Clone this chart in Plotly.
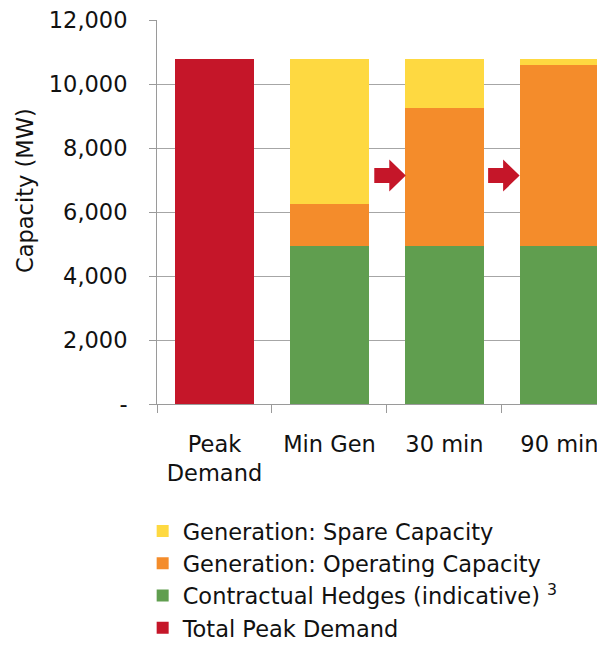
import plotly.graph_objects as go

categories = ["Peak<br>Demand", "Min Gen", "30 min", "90 min"]
total_peak_demand = [10780, None, None, None]
contractual_hedges = [None, 4950, 4950, 4950]
operating_capacity = [None, 1300, 4310, 5640]
spare_capacity = [None, 4530, 1520, 190]

y_tickvals = [0, 2000, 4000, 6000, 8000, 10000, 12000]
y_ticktext = ["-", "2,000", "4,000", "6,000", "8,000", "10,000", "12,000"]

arrow_x = [1.52, 2.51]
arrow_y = [7140, 7140]

RED = "#C51629"
GREEN = "#609E4F"
ORANGE = "#F48C2B"
YELLOW = "#FED941"
FONT = "DejaVu Sans"
TXT = "#111111"
FS = 22.5

# page body has an 8px default margin; compensate so the picture lands at 605x645
OFF = 8

fig = go.Figure()
fig.add_bar(x=categories, y=total_peak_demand, name="Total Peak Demand", legendgroup="d",
            marker=dict(color=RED, line=dict(width=0)), width=0.68)
fig.add_bar(x=categories, y=contractual_hedges, name="Contractual Hedges (indicative) <sup>3</sup>",
            legendgroup="c", marker=dict(color=GREEN, line=dict(width=0)), width=0.68)
fig.add_bar(x=categories, y=operating_capacity, name="Generation: Operating Capacity",
            legendgroup="b", marker=dict(color=ORANGE, line=dict(width=0)), width=0.68)
fig.add_bar(x=categories, y=spare_capacity, name="Generation: Spare Capacity",
            legendgroup="a", marker=dict(color=YELLOW, line=dict(width=0)), width=0.68)

arrow_path = "M-15,-7.5 L0,-7.5 L0,-16 L16.5,0 L0,16 L0,7.5 L-15,7.5 Z"
for ax, ay in zip(arrow_x, arrow_y):
    fig.add_shape(type="path", xref="x", yref="y", xsizemode="pixel", ysizemode="pixel",
                  xanchor=ax, yanchor=ay, path=arrow_path,
                  fillcolor=RED, line=dict(width=0), layer="above")

fig.add_annotation(text="Capacity (MW)", textangle=-90, xref="paper", yref="paper",
                   x=-0.295, y=0.557, xanchor="center", yanchor="middle", showarrow=False,
                   font=dict(family=FONT, size=FS, color=TXT))

fig.update_layout(
    width=605 - OFF, height=645 - OFF,
    barmode="stack",
    plot_bgcolor="white", paper_bgcolor="white",
    margin=dict(l=157 - OFF, r=0, t=20 - OFF, b=241, autoexpand=False),
    font=dict(family=FONT, size=FS, color=TXT),
    showlegend=True,
    legend=dict(traceorder="reversed", orientation="v",
                x=-0.032, xanchor="left", y=-0.276, yanchor="top",
                font=dict(family=FONT, size=FS, color=TXT),
                itemwidth=30, tracegroupgap=9, bgcolor="rgba(0,0,0,0)"),
    xaxis=dict(type="category", range=[-0.5, 3.396], showline=True, linecolor="#9a9a9a",
               linewidth=1, ticks="outside", tickson="boundaries", ticklen=8,
               tickcolor="#9a9a9a", showgrid=False, ticklabelstandoff=20,
               tickfont=dict(family=FONT, size=FS, color=TXT)),
    yaxis=dict(range=[0, 12002], tickvals=y_tickvals, ticktext=y_ticktext,
               showline=True, linecolor="#9a9a9a", linewidth=1,
               ticks="outside", ticklen=7, tickcolor="#9a9a9a",
               showgrid=True, gridcolor="#a6a6a6", gridwidth=1,
               zeroline=False, ticklabelstandoff=17, ticklabeloverflow="allow",
               tickfont=dict(family=FONT, size=FS, color=TXT)),
)

fig.write_html("out.html")
